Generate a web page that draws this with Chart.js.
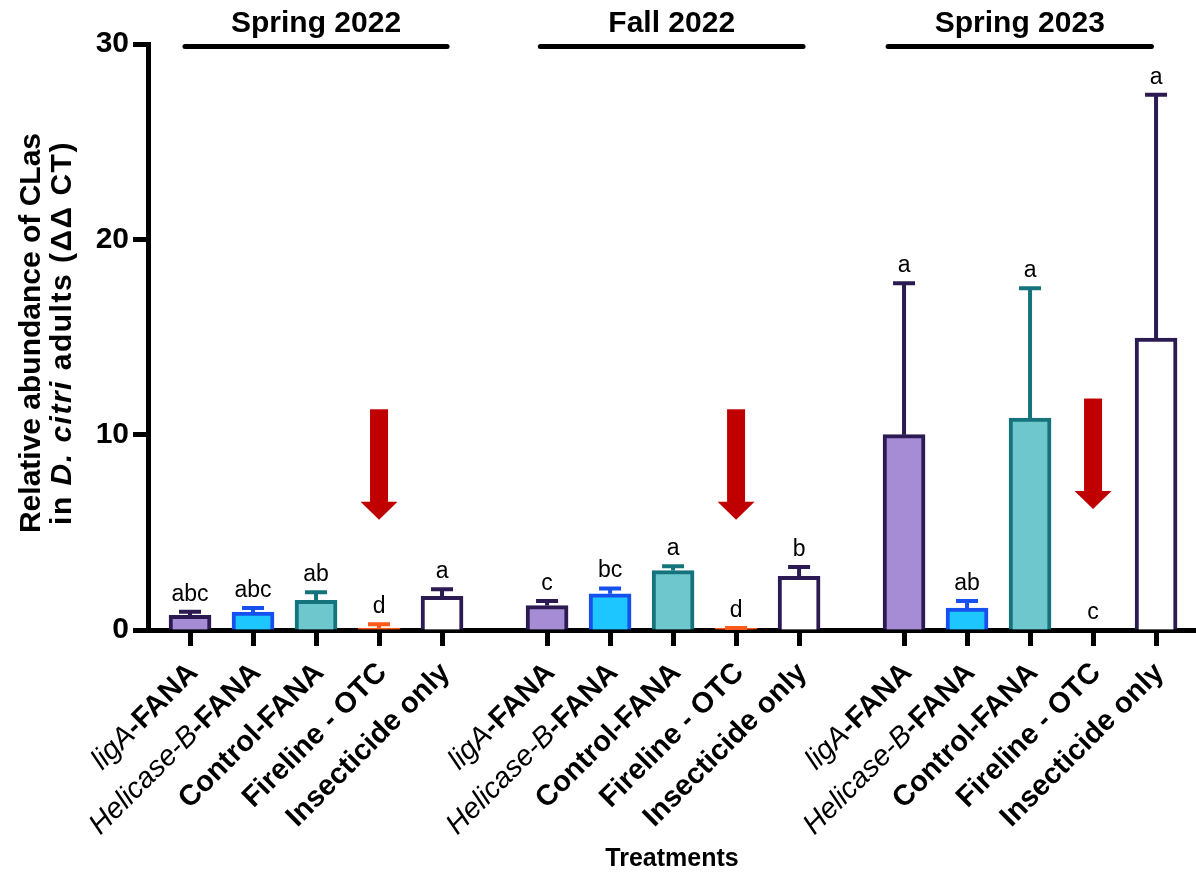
<!DOCTYPE html>
<html>
<head>
<meta charset="utf-8">
<title>Relative abundance of CLas in D. citri adults</title>
<script src="https://cdn.jsdelivr.net/npm/chart.js@4/dist/chart.umd.min.js"></script>
<style>
  html, body { margin: 0; padding: 0; background: #ffffff; }
  #wrap { width: 1196px; height: 875px; }
</style>
</head>
<body>
<div id="wrap"><canvas id="chart" width="1196" height="875"></canvas></div>
<script>
// ---- data ----
const seasons = ['Spring 2022', 'Fall 2022', 'Spring 2023'];
const treatments = ['ligA-FANA', 'Helicase-B-FANA', 'Control-FANA', 'Fireline - OTC', 'Insecticide only'];
const italicPart = ['ligA', 'Helicase-B', '', '', ''];   // gene names set in italics

const spring2022 = [0.75, 0.92, 1.52, 0.10, 1.72];
const spring2022Err = [0.19, 0.21, 0.41, 0.20, 0.36];
const spring2022Letters = ['abc', 'abc', 'ab', 'd', 'a'];

const fall2022 = [1.25, 1.85, 3.04, 0.08, 2.75];
const fall2022Err = [0.23, 0.28, 0.22, 0.02, 0.47];
const fall2022Letters = ['c', 'bc', 'a', 'd', 'b'];

const spring2023 = [10.0, 1.12, 10.85, 0, 14.95];
const spring2023Err = [7.75, 0.37, 6.65, 0, 12.45];
const spring2023Letters = ['a', 'ab', 'a', 'c', 'a'];

const yTicks = [0, 10, 20, 30];

// where each season's block of bars starts on the x axis
const groupStart = [0, 5.667, 11.333];
// season bracket extent (x units)
const bracketFrom = [-0.08, 5.56, 11.08];
const bracketTo = [4.08, 9.73, 15.26];
// red arrows over the Fireline - OTC bars (y units)
const arrowTop = [11.3, 11.3, 11.85];
const arrowTip = [5.65, 5.65, 6.2];

// ---- styling ----
const FONT = '"Liberation Sans", Arial, Helvetica, sans-serif';
const fillColors = ['#A68CD5', '#1EC6FF', '#6FC7CE', '#FF5A1C', '#FFFFFF'];
const lineColors = ['#2C1A52', '#1650EE', '#14737C', '#FF5A1C', '#2C1A52'];

// ---- derived series ----
const seriesMeans = [spring2022, fall2022, spring2023];
const seriesErrs = [spring2022Err, fall2022Err, spring2023Err];
const seriesLetters = [spring2022Letters, fall2022Letters, spring2023Letters];

const xPositions = [], means = [], errs = [], letters = [], kinds = [];
seasons.forEach((s, g) => {
  treatments.forEach((t, i) => {
    xPositions.push(groupStart[g] + i);
    means.push(seriesMeans[g][i]);
    errs.push(seriesErrs[g][i]);
    letters.push(seriesLetters[g][i]);
    kinds.push(i);
  });
});

const annotations = {
  id: 'annotations',
  afterDatasetsDraw(chart) {
    const { ctx, scales: { x, y } } = chart;
    ctx.save();
    xPositions.forEach((xv, k) => {
      const px = x.getPixelForValue(xv);
      const top = y.getPixelForValue(means[k]);
      const cap = y.getPixelForValue(means[k] + errs[k]);
      if (errs[k] > 0) {
        ctx.strokeStyle = lineColors[kinds[k]];
        ctx.lineWidth = 4;
        ctx.lineCap = 'butt';
        ctx.beginPath();
        ctx.moveTo(px, top);
        ctx.lineTo(px, cap);
        ctx.moveTo(px - 11, cap);
        ctx.lineTo(px + 11, cap);
        ctx.stroke();
      }
      ctx.fillStyle = '#000';
      ctx.font = `23px ${FONT}`;
      ctx.textAlign = 'center';
      ctx.textBaseline = 'alphabetic';
      ctx.fillText(letters[k], px, cap - 11);
    });
    ctx.restore();
  },
  afterDraw(chart) {
    const { ctx, scales: { x, y } } = chart;
    ctx.save();

    // season brackets
    seasons.forEach((s, g) => {
      const a = x.getPixelForValue(bracketFrom[g]);
      const b = x.getPixelForValue(bracketTo[g]);
      ctx.strokeStyle = '#000';
      ctx.lineWidth = 5;
      ctx.lineCap = 'round';
      ctx.beginPath();
      ctx.moveTo(a, 46.5);
      ctx.lineTo(b, 46.5);
      ctx.stroke();
      ctx.fillStyle = '#000';
      ctx.font = `bold 30px ${FONT}`;
      ctx.textAlign = 'center';
      ctx.textBaseline = 'alphabetic';
      ctx.fillText(s, (a + b) / 2, 32);
    });

    // red arrows
    seasons.forEach((s, g) => {
      const px = x.getPixelForValue(groupStart[g] + 3);
      const t = y.getPixelForValue(arrowTop[g]);
      const tip = y.getPixelForValue(arrowTip[g]);
      const headLen = 18;
      ctx.fillStyle = '#C00000';
      ctx.fillRect(px - 9, t, 18, tip - headLen - t + 0.5);
      ctx.beginPath();
      ctx.moveTo(px - 18.5, tip - headLen);
      ctx.lineTo(px + 18.5, tip - headLen);
      ctx.lineTo(px, tip);
      ctx.closePath();
      ctx.fill();
    });

    // rotated treatment labels
    ctx.fillStyle = '#000';
    xPositions.forEach((xv, k) => {
      const px = x.getPixelForValue(xv);
      const name = treatments[kinds[k]];
      const ital = italicPart[kinds[k]];
      const rest = name.slice(ital.length);
      const fItal = `italic 29px ${FONT}`;
      const fBold = `bold 29px ${FONT}`;
      ctx.font = fItal;
      const wI = ital ? ctx.measureText(ital).width : 0;
      ctx.font = fBold;
      const wB = ctx.measureText(rest).width;
      ctx.save();
      ctx.translate(px + 9, 674);
      ctx.rotate(-Math.PI / 4);
      ctx.textAlign = 'left';
      ctx.textBaseline = 'alphabetic';
      let cx = -(wI + wB);
      if (ital) {
        ctx.font = fItal;
        ctx.fillText(ital, cx, 0);
        cx += wI;
      }
      ctx.font = fBold;
      ctx.fillText(rest, cx, 0);
      ctx.restore();
    });

    // y axis title (two lines, species name in italics)
    const midY = (y.top + y.bottom) / 2 - 4;
    ctx.save();
    ctx.translate(32, midY);
    ctx.rotate(-Math.PI / 2);
    ctx.font = `bold 30px ${FONT}`;
    ctx.textAlign = 'center';
    ctx.textBaseline = 'middle';
    ctx.fillText('Relative abundance of CLas', 0, 0);
    ctx.restore();

    const pieces = [
      { t: 'in ', f: `bold 30px ${FONT}` },
      { t: 'D. citri', f: `italic bold 30px ${FONT}` },
      { t: ' adults (\u0394\u0394 CT)', f: `bold 30px ${FONT}` }
    ];
    ctx.save();
    ctx.letterSpacing = '1.5px';
    let total = 0;
    pieces.forEach(p => { ctx.font = p.f; p.w = ctx.measureText(p.t).width; total += p.w; });
    ctx.translate(63, midY);
    ctx.rotate(-Math.PI / 2);
    ctx.textAlign = 'left';
    ctx.textBaseline = 'middle';
    let cx = -total / 2;
    pieces.forEach(p => { ctx.font = p.f; ctx.fillText(p.t, cx, 0); cx += p.w; });
    ctx.restore();

    ctx.restore();
  }
};

new Chart(document.getElementById('chart'), {
  type: 'bar',
  data: {
    datasets: [{
      data: xPositions.map((xv, k) => ({ x: xv, y: means[k] })),
      backgroundColor: kinds.map(i => fillColors[i]),
      borderColor: kinds.map(i => lineColors[i]),
      borderWidth: 4,
      borderSkipped: 'start',
      barThickness: 42
    }]
  },
  options: {
    responsive: false,
    animation: false,
    devicePixelRatio: 1,
    layout: { padding: { top: 44, left: 0, right: 0, bottom: 0 } },
    plugins: { legend: { display: false }, tooltip: { enabled: false } },
    scales: {
      x: {
        type: 'linear',
        min: -0.667,
        max: 15.967,
        offset: false,
        afterBuildTicks: s => { s.ticks = xPositions.map(v => ({ value: v })); },
        afterFit: s => { s.height = 245; },
        ticks: { display: false, autoSkip: false },
        grid: { offset: false, drawOnChartArea: false, drawTicks: true, tickLength: 16, tickWidth: 5, tickColor: '#000' },
        border: { display: true, width: 5, color: '#000' },
        title: {
          display: true,
          text: 'Treatments',
          color: '#000',
          font: { family: FONT, size: 25, weight: 'bold' },
          padding: { top: 0, bottom: 1 }
        }
      },
      y: {
        min: 0,
        max: 30,
        afterBuildTicks: s => { s.ticks = yTicks.map(v => ({ value: v })); },
        afterFit: s => { s.width = 148; },
        ticks: { color: '#000', padding: 4, font: { family: FONT, size: 30, weight: 'bold' } },
        grid: { drawOnChartArea: false, drawTicks: true, tickLength: 15, tickWidth: 5, tickColor: '#000' },
        border: { display: true, width: 5, color: '#000' }
      }
    }
  },
  plugins: [annotations]
});
</script>
</body>
</html>
